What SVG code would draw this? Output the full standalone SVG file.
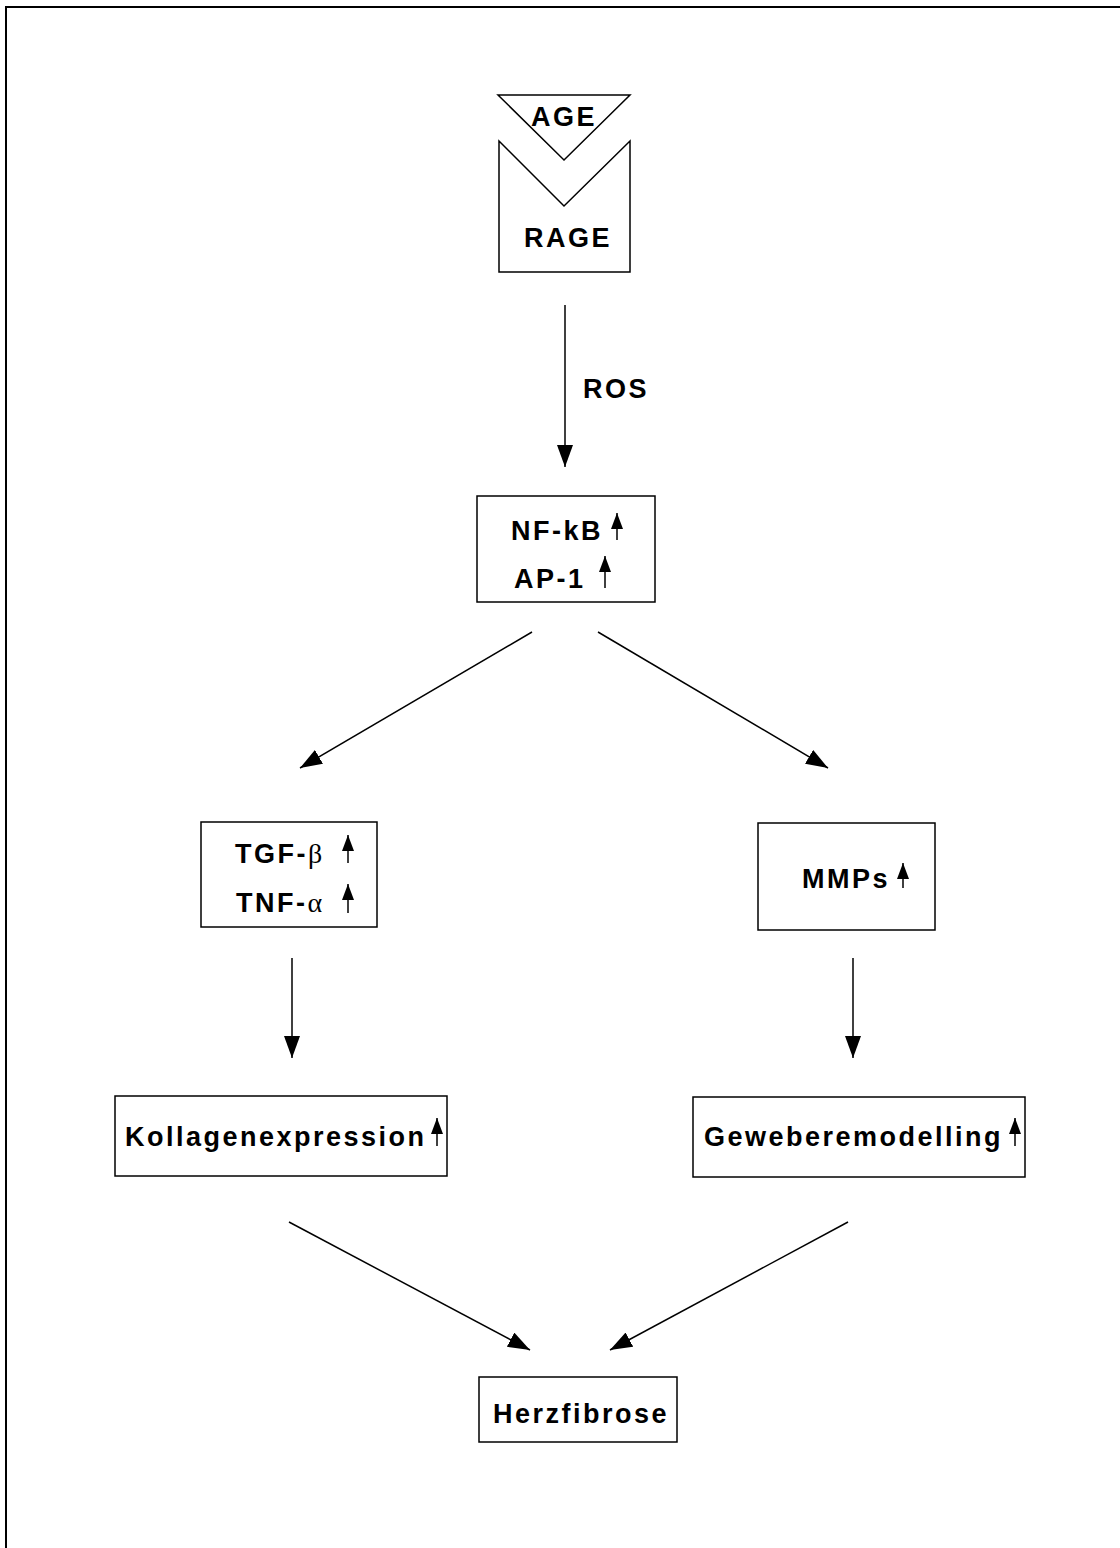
<svg xmlns="http://www.w3.org/2000/svg" width="1120" height="1548" viewBox="0 0 1120 1548">
<style>
.box{fill:#fff;stroke:#000;stroke-width:1.5}
.t{font-family:"Liberation Sans",Arial,sans-serif;font-weight:bold;font-size:27px;letter-spacing:2.5px;fill:#000}
.g{font-family:"Liberation Serif","Times New Roman",serif;font-weight:normal;font-size:28px;letter-spacing:0}
.c{stroke:#000;stroke-width:1.5;fill:none;marker-end:url(#ah)}
.u{stroke:#000;stroke-width:1.5;fill:none;marker-end:url(#up)}
</style>
<defs>
<marker id="ah" viewBox="0 0 22 16" refX="22" refY="8" markerWidth="22" markerHeight="16" markerUnits="userSpaceOnUse" orient="auto">
<path d="M0,0 L22,8 L0,16 z" fill="#000"/>
</marker>
<marker id="up" viewBox="0 0 16 12" refX="16" refY="6" markerWidth="16" markerHeight="12" markerUnits="userSpaceOnUse" orient="auto">
<path d="M0,0 L16,6 L0,12 z" fill="#000"/>
</marker>
</defs>
<rect width="1120" height="1548" fill="#fff"/>
<path d="M6,1548 L6,7 L1120,7" fill="none" stroke="#000" stroke-width="2"/>

<g id="age">
<path class="box" d="M498,95 L630,95 L564,160 z"/>
<text class="t" x="531" y="126">AGE</text>
</g>
<g id="rage">
<path class="box" d="M499,141 L564,206 L630,141 L630,272 L499,272 z"/>
<text class="t" x="524" y="247">RAGE</text>
</g>
<g id="nfkb">
<rect class="box" x="477" y="496" width="178" height="106"/>
<text class="t" x="511" y="540">NF-kB</text>
<line class="u" x1="617" y1="540" x2="617" y2="513"/>
<text class="t" x="514" y="588">AP-1</text>
<line class="u" x1="605" y1="588" x2="605" y2="556"/>
</g>
<g id="tgf">
<rect class="box" x="201" y="822" width="176" height="105"/>
<text class="t" x="235" y="863">TGF-<tspan class="g">β</tspan></text>
<line class="u" x1="348" y1="863" x2="348" y2="835"/>
<text class="t" x="236" y="912">TNF-<tspan class="g">α</tspan></text>
<line class="u" x1="348" y1="913" x2="348" y2="884"/>
</g>
<g id="mmps">
<rect class="box" x="758" y="823" width="177" height="107"/>
<text class="t" x="802" y="888">MMPs</text>
<line class="u" x1="903" y1="888" x2="903" y2="863"/>
</g>
<g id="kollagen">
<rect class="box" x="115" y="1096" width="332" height="80"/>
<text class="t" x="125" y="1146">Kollagenexpression</text>
<line class="u" x1="437" y1="1146" x2="437" y2="1118"/>
</g>
<g id="gewebe">
<rect class="box" x="693" y="1097" width="332" height="80"/>
<text class="t" x="704" y="1146">Geweberemodelling</text>
<line class="u" x1="1015" y1="1146" x2="1015" y2="1118"/>
</g>
<g id="herz">
<rect class="box" x="479" y="1377" width="198" height="65"/>
<text class="t" x="493" y="1423">Herzfibrose</text>
</g>
<g id="connectors">
<line class="c" x1="565" y1="305" x2="565" y2="467"/>
<text class="t" x="583" y="398">ROS</text>
<line class="c" x1="532" y1="632" x2="300" y2="768"/>
<line class="c" x1="598" y1="632" x2="828" y2="768"/>
<line class="c" x1="292" y1="958" x2="292" y2="1058"/>
<line class="c" x1="853" y1="958" x2="853" y2="1058"/>
<line class="c" x1="289" y1="1222" x2="530" y2="1350"/>
<line class="c" x1="848" y1="1222" x2="610" y2="1350"/>
</g>
</svg>
